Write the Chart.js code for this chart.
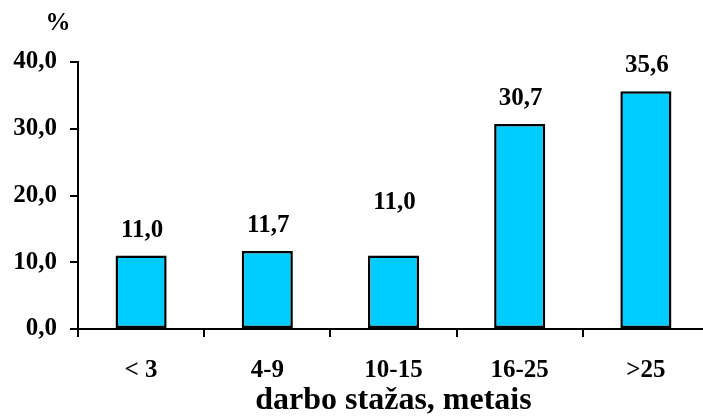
<!DOCTYPE html>
<html>
<head>
<meta charset="utf-8">
<script src="https://cdn.jsdelivr.net/npm/chart.js@4"></script>
<style>
  html, body { margin: 0; padding: 0; overflow: hidden; background: #fff; }
  #wrap { width: 703px; height: 420px; overflow: hidden; }
</style>
</head>
<body>
<div id="wrap"><canvas id="grafikas" width="710" height="420"></canvas></div>
<script>
// duomenys
const categories = ['< 3', '4-9', '10-15', '16-25', '>25'];
const values = [11.0, 11.7, 11.0, 30.7, 35.6];
const yTicks = [0, 10, 20, 30, 40];
const axisTitle = 'darbo stažas, metais';

const FONT = '"Liberation Serif", "Times New Roman", serif';

function fmt(v) {
    return v.toFixed(1).replace('.', ',');
}

// value labels above the bars + the "%" unit
const labelsPlugin = {
    id: 'reiksmes',
    afterDatasetsDraw(chart, args, opts) {
        const ctx = chart.ctx;
        const meta = chart.getDatasetMeta(0);
        ctx.save();
        ctx.font = 'bold 25px ' + FONT;
        ctx.fillStyle = '#000';
        ctx.textAlign = 'center';
        ctx.textBaseline = 'alphabetic';
        meta.data.forEach((bar, i) => {
            const lift = (opts.lift && opts.lift[i]) || 0;
            ctx.fillText(fmt(values[i]), bar.x + 1, bar.y - 19 - lift);
        });
        ctx.textBaseline = 'middle';
        ctx.fillText('%', 58, 24);
        ctx.restore();
    }
};

const CHART = document.getElementById('grafikas');
new Chart(CHART, {
    type: 'bar',
    data: {
        labels: categories,
        datasets: [{
            data: values,
            backgroundColor: '#00CCFF',
            borderColor: '#000',
            borderWidth: 2.5,
            borderSkipped: false,
            categoryPercentage: 1,
            barPercentage: 0.405
        }]
    },
    options: {
        responsive: false,
        animation: false,
        layout: { padding: { top: 62, left: 0, right: 1, bottom: 0 } },
        plugins: {
            legend: { display: false },
            tooltip: { enabled: false },
            reiksmes: { lift: [0, 0, 28, 0, 0] }
        },
        scales: {
            x: {
                border: { color: '#000', width: 2 },
                grid: {
                    offset: true,
                    drawOnChartArea: false,
                    drawTicks: true,
                    tickLength: 8,
                    color: '#000',
                    lineWidth: 2
                },
                ticks: {
                    color: '#000',
                    padding: 19,
                    maxRotation: 0,
                    font: { family: FONT, size: 25, weight: 'bold' }
                },
                title: {
                    display: true,
                    text: axisTitle,
                    color: '#000',
                    padding: { top: 0, bottom: 0 },
                    font: { family: FONT, size: 32, weight: 'bold' }
                },
                afterFit(scale) { scale.height = 91; }
            },
            y: {
                min: 0,
                max: 40,
                border: { color: '#000', width: 2 },
                grid: {
                    drawOnChartArea: false,
                    drawTicks: true,
                    tickLength: 8,
                    color: '#000',
                    lineWidth: 2
                },
                afterBuildTicks(scale) {
                    scale.ticks = yTicks.map(v => ({ value: v }));
                },
                ticks: {
                    color: '#000',
                    padding: 13,
                    font: { family: FONT, size: 25, weight: 'bold' },
                    callback: (v) => fmt(v)
                },
                afterFit(scale) { scale.width = 78; }
            }
        }
    },
    plugins: [labelsPlugin]
});
</script>
</body>
</html>
